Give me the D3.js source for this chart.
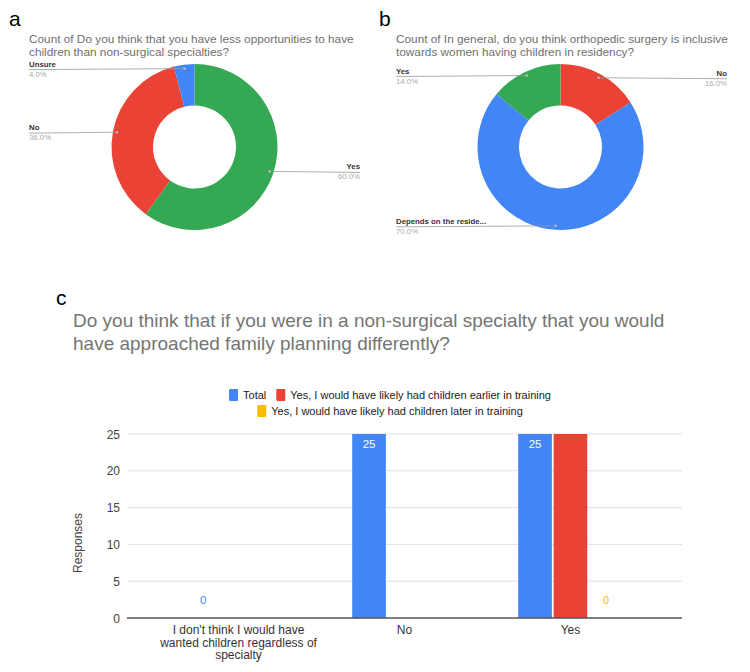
<!DOCTYPE html>
<html>
<head>
<meta charset="utf-8">
<script src="https://cdn.jsdelivr.net/npm/d3@7"></script>
<style>
  body { margin: 0; background: #fff; }
  svg { display: block; font-family: "Liberation Sans", Arial, sans-serif; }
</style>
</head>
<body>
<svg id="canvas" width="750" height="672"></svg>
<script>
// panel a
let labelsA = ['Yes', 'No', 'Unsure']
let valuesA = [60, 36, 4]
let colorsA = ['#34A853', '#EA4335', '#4285F4']

// panel b
let labelsB = ['No', 'Depends on the reside...', 'Yes']
let valuesB = [16, 70, 14]
let colorsB = ['#EA4335', '#4285F4', '#34A853']

// panel c
let categories = ["I don't think I would have wanted children regardless of specialty", 'No', 'Yes']
let seriesNames = ['Total', 'Yes, I would have likely had children earlier in training', 'Yes, I would have likely had children later in training']
let totalValues = [0, 25, 25]
let earlierValues = [null, null, 25]
let laterValues = [null, null, 0]
let seriesColors = ['#4285F4', '#EA4335', '#FBBC04']
let labeledSeries = [0, 2]
let yTicks = [0, 5, 10, 15, 20, 25]

let canvas = d3.select('#canvas')

let drawDonut = (opts) => {
    let g = canvas.append('g')

    g.append('text')
        .attr('x', opts.letterX).attr('y', 26)
        .attr('font-size', 21).attr('fill', '#000')
        .text(opts.letter)

    g.selectAll('.title')
        .data(opts.title)
        .enter()
        .append('text')
        .attr('x', opts.left)
        .attr('y', (d, i) => 43 + i * 13)
        .attr('font-size', 11.8)
        .attr('fill', '#6f6f6f')
        .text(d => d)

    let data = opts.labels.map((l, i) => ({label: l, value: opts.values[i], color: opts.colors[i]}))
    let total = d3.sum(data, d => d.value)
    let pie = d3.pie().sort(null).value(d => d.value)
    let arc = d3.arc().innerRadius(41.5).outerRadius(83)

    let donut = g.append('g').attr('transform', 'translate(' + opts.cx + ',' + opts.cy + ')')
    donut.selectAll('path')
        .data(pie(data))
        .enter()
        .append('path')
        .attr('d', arc)
        .attr('fill', d => d.data.color)

    pie(data).forEach((d) => {
        let mid = (d.startAngle + d.endAngle) / 2
        let dx = opts.cx + 79 * Math.sin(mid)
        let dy = opts.cy - 79 * Math.cos(mid)
        let left = Math.sin(mid) < 0
        let ex = left ? opts.left : opts.right
        let anchor = left ? 'start' : 'end'

        g.append('line')
            .attr('x1', ex).attr('y1', dy + 1)
            .attr('x2', dx).attr('y2', dy)
            .attr('stroke', '#999').attr('stroke-width', 0.8)
        g.append('circle')
            .attr('cx', dx).attr('cy', dy).attr('r', 1.3)
            .attr('fill', '#bbb')
        g.append('text')
            .attr('x', ex).attr('y', dy - 2)
            .attr('text-anchor', anchor)
            .attr('font-size', 7.8).attr('font-weight', 'bold')
            .attr('fill', '#333')
            .text(d.data.label)
        g.append('text')
            .attr('x', ex).attr('y', dy + 8)
            .attr('text-anchor', anchor)
            .attr('font-size', 7.8)
            .attr('fill', '#aaa')
            .text(d3.format('.1f')(d.data.value / total * 100) + '%')
    })
}

drawDonut({
    letter: 'a', letterX: 9, left: 29, right: 360, cx: 194.5, cy: 147,
    title: ['Count of Do you think that you have less opportunities to have', 'children than non-surgical specialties?'],
    labels: labelsA, values: valuesA, colors: colorsA
})

drawDonut({
    letter: 'b', letterX: 379, left: 396, right: 727, cx: 560.5, cy: 147,
    title: ['Count of In general, do you think orthopedic surgery is inclusive', 'towards women having children in residency?'],
    labels: labelsB, values: valuesB, colors: colorsB
})

// bar chart
let plot = {left: 127, right: 682, top: 434, bottom: 618}

canvas.append('text')
    .attr('x', 56).attr('y', 305)
    .attr('font-size', 21).attr('fill', '#000')
    .text('c')

canvas.selectAll('.ctitle')
    .data(['Do you think that if you were in a non-surgical specialty that you would', 'have approached family planning differently?'])
    .enter()
    .append('text')
    .attr('x', 73)
    .attr('y', (d, i) => 327 + i * 23)
    .attr('font-size', 19)
    .attr('fill', '#757575')
    .text(d => d)

// legend
let legendRows = [[0, 1], [2]]
legendRows.forEach((row, r) => {
    let lg = canvas.append('g')
    let x = 0
    row.forEach((s) => {
        let item = lg.append('g').attr('transform', 'translate(' + x + ',0)')
        item.append('rect')
            .attr('x', 0).attr('y', -6).attr('width', 9).attr('height', 12)
            .attr('rx', 1)
            .attr('fill', seriesColors[s])
        let t = item.append('text')
            .attr('x', 14).attr('y', 4)
            .attr('font-size', 11).attr('fill', '#222')
            .text(seriesNames[s])
        x += 14 + t.node().getComputedTextLength() + 10
    })
    let w = x - 10
    lg.attr('transform', 'translate(' + (390 - w / 2) + ',' + (395 + r * 16) + ')')
})

let y = d3.scaleLinear().domain([0, 25]).range([plot.bottom, plot.top])
let x0 = d3.scaleBand().domain(categories).range([plot.left, plot.right]).paddingInner(0.37).paddingOuter(0.357)
let x1 = d3.scaleBand().domain([0, 1, 2]).range([0, x0.bandwidth()]).paddingInner(0.05)

canvas.append('g')
    .selectAll('line')
    .data(yTicks.slice(1))
    .enter()
    .append('line')
    .attr('x1', plot.left).attr('x2', plot.right)
    .attr('y1', d => y(d)).attr('y2', d => y(d))
    .attr('stroke', '#e0e0e0').attr('stroke-width', 1)

canvas.append('g')
    .selectAll('text')
    .data(yTicks)
    .enter()
    .append('text')
    .attr('x', 120)
    .attr('y', d => y(d) + 4.5)
    .attr('text-anchor', 'end')
    .attr('font-size', 12).attr('fill', '#444')
    .text(d => d)

canvas.append('text')
    .attr('transform', 'translate(82,' + 543 + ') rotate(-90)')
    .attr('text-anchor', 'middle')
    .attr('font-size', 12).attr('fill', '#444')
    .text('Responses')

let series = [totalValues, earlierValues, laterValues]
let bars = []
series.forEach((vals, s) => {
    vals.forEach((v, i) => {
        if (v !== null) bars.push({cat: categories[i], s: s, value: v})
    })
})

canvas.append('g')
    .selectAll('rect')
    .data(bars.filter(d => d.value > 0))
    .enter()
    .append('rect')
    .attr('x', d => x0(d.cat) + x1(d.s))
    .attr('y', d => y(d.value))
    .attr('width', x1.bandwidth())
    .attr('height', d => y(0) - y(d.value))
    .attr('fill', d => seriesColors[d.s])

canvas.append('g')
    .selectAll('text')
    .data(bars.filter(d => labeledSeries.includes(d.s)))
    .enter()
    .append('text')
    .attr('x', d => x0(d.cat) + x1(d.s) + x1.bandwidth() / 2)
    .attr('y', d => d.value > 0 ? y(d.value) + 14 : y(0) - 14)
    .attr('text-anchor', 'middle')
    .attr('font-size', 11.5)
    .attr('fill', d => d.value > 0 ? '#fff' : seriesColors[d.s])
    .text(d => d.value)

canvas.append('line')
    .attr('x1', plot.left).attr('x2', plot.right)
    .attr('y1', y(0)).attr('y2', y(0))
    .attr('stroke', '#555').attr('stroke-width', 1.5)

let wrap = (text, width) => {
    text.each(function () {
        let t = d3.select(this)
        let words = t.text().split(' ')
        let line = []
        let cx = t.attr('x')
        t.text(null)
        let tspan = t.append('tspan').attr('x', cx).attr('dy', 0)
        words.forEach((w) => {
            line.push(w)
            tspan.text(line.join(' '))
            if (tspan.node().getComputedTextLength() > width && line.length > 1) {
                line.pop()
                tspan.text(line.join(' '))
                line = [w]
                tspan = t.append('tspan').attr('x', cx).attr('dy', 12.5).text(w)
            }
        })
    })
}

canvas.append('g')
    .selectAll('text')
    .data(categories)
    .enter()
    .append('text')
    .attr('x', d => x0(d) + x0.bandwidth() / 2)
    .attr('y', 634)
    .attr('text-anchor', 'middle')
    .attr('font-size', 12).attr('fill', '#333')
    .text(d => d)
    .call(wrap, 160)
</script>
</body>
</html>
